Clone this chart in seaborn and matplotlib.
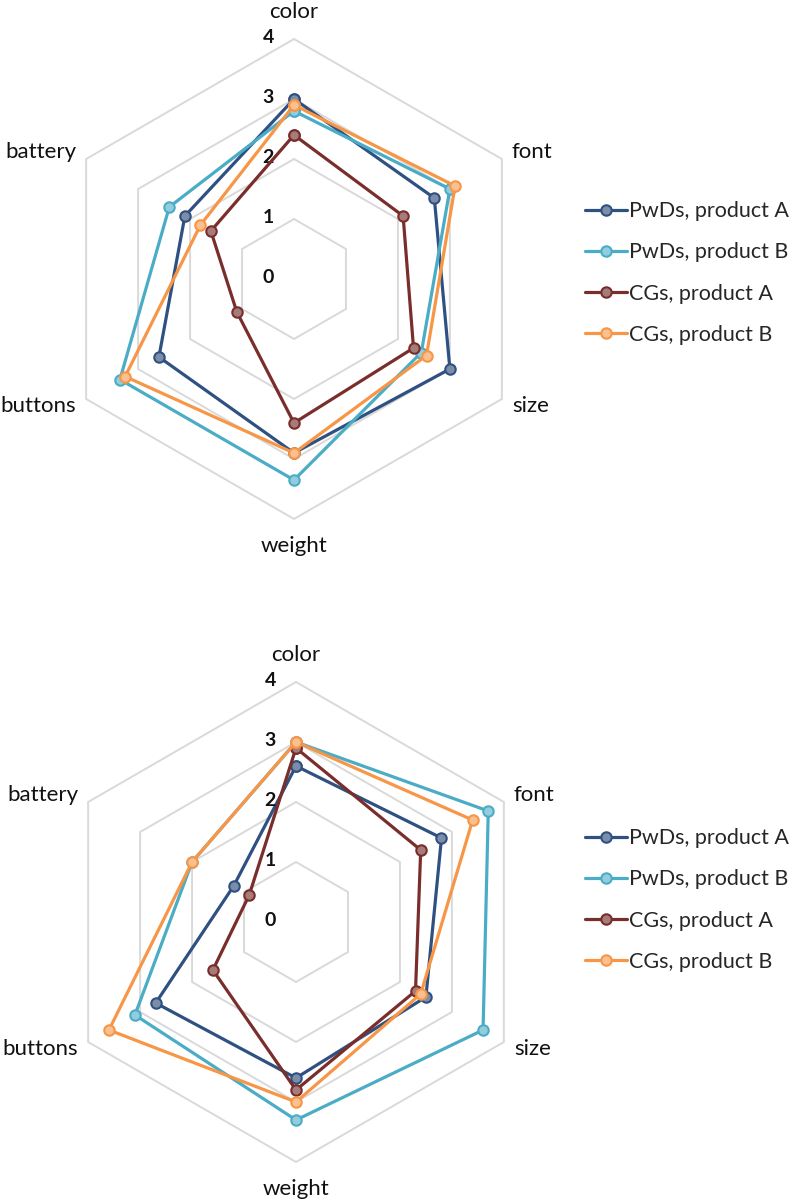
import numpy as np
import pandas as pd
import matplotlib
matplotlib.use("Agg")
import matplotlib.pyplot as plt
import seaborn as sns
from matplotlib.lines import Line2D

sns.set_theme(style="white")
plt.rcParams['font.family'] = ['Lato', 'DejaVu Sans']

# ---------------- data ----------------
categories = ["color", "font", "size", "weight", "buttons", "battery"]
series_names = ["PwDs, product A", "PwDs, product B", "CGs, product A", "CGs, product B"]
tick_values = [0, 1, 2, 3, 4]

# top chart
top_pwds_a = [3.0, 2.7, 3.0, 2.9, 2.6, 2.1]
top_pwds_b = [2.8, 3.0, 2.45, 3.35, 3.35, 2.4]
top_cgs_a = [2.4, 2.1, 2.3, 2.4, 1.1, 1.6]
top_cgs_b = [2.9, 3.1, 2.55, 2.9, 3.25, 1.8]

# bottom chart
bot_pwds_a = [2.6, 2.8, 2.5, 2.6, 2.7, 1.2]
bot_pwds_b = [3.0, 3.7, 3.6, 3.3, 3.1, 2.0]
bot_cgs_a = [2.9, 2.4, 2.3, 2.8, 1.6, 0.9]
bot_cgs_b = [3.0, 3.4, 2.4, 3.0, 3.6, 2.0]

# ---------------- styles ----------------
line_colors = ["#2F5182", "#4BACC6", "#7A2E2C", "#F79646"]
face_colors = ["#7D8DA8", "#93CDDD", "#A67C7B", "#FAC08F"]
grid_color = "#D9D9D9"

W, H = 791, 1201
DPI = 100
PX = 60.0  # pixels per unit

fig = plt.figure(figsize=(W / DPI, H / DPI), dpi=DPI)
fig.patch.set_facecolor("white")

n = len(categories)
angles = np.deg2rad(90 - np.arange(n) * 360.0 / n)


def to_xy(vals):
    vals = np.asarray(vals, dtype=float)
    v = np.append(vals, vals[0])
    a = np.append(angles, angles[0])
    return v * np.cos(a), v * np.sin(a)


def make_axes(px_left, px_top, px_w, px_h, cx, cy):
    ax = fig.add_axes([px_left / W, 1 - (px_top + px_h) / H, px_w / W, px_h / H])
    ax.set_xlim((px_left - cx) / PX, (px_left + px_w - cx) / PX)
    ax.set_ylim((cy - (px_top + px_h)) / PX, (cy - px_top) / PX)
    ax.axis("off")
    return ax


def draw_radar(ax, data_list, legend_cy):
    # hexagon gridlines
    for t in tick_values[1:]:
        gx, gy = to_xy([t] * n)
        ax.plot(gx, gy, color=grid_color, lw=1.4, zorder=1, solid_joinstyle="miter")
    # tick labels
    for t in tick_values:
        ax.text(-0.43, t + 0.03, str(t), ha="center", va="center",
                fontsize=14, fontweight="bold", color="#111111", zorder=5)
    # category labels
    for cat, a in zip(categories, angles):
        c, s = np.cos(a), np.sin(a)
        if abs(c) < 1e-6:
            ax.text(0, 4.45 * np.sign(s), cat, ha="center", va="center",
                    fontsize=16, color="#111111", clip_on=False)
        else:
            x = 3.63 * np.sign(c)
            y = 2.11 * np.sign(s)
            ax.text(x, y, cat, ha="left" if c > 0 else "right", va="center",
                    fontsize=16, color="#111111", clip_on=False)
    # series
    rows = []
    for name, vals in zip(series_names, data_list):
        xs, ys = to_xy(vals)
        for i, (x, y) in enumerate(zip(xs, ys)):
            rows.append({"series": name, "order": i, "x": x, "y": y})
    df = pd.DataFrame(rows)
    handles = []
    for k, name in enumerate(series_names):
        sub = df[df["series"] == name]
        sns.lineplot(data=sub, x="x", y="y", sort=False, estimator=None, ax=ax,
                     color=line_colors[k], lw=2.3, marker="o", markersize=7.5,
                     markerfacecolor=face_colors[k], markeredgecolor=line_colors[k],
                     markeredgewidth=1.5, zorder=3 + k, legend=False)
        handles.append(Line2D([], [], color=line_colors[k], lw=2.3, marker="o",
                              markersize=7.5, markerfacecolor=face_colors[k],
                              markeredgecolor=line_colors[k], markeredgewidth=1.5))
    ax.set_xlabel("")
    ax.set_ylabel("")
    ax.axis("off")
    ax.legend(handles, series_names, loc="center left",
              bbox_to_anchor=(585 / W, 1 - legend_cy / H), bbox_transform=fig.transFigure,
              frameon=False, fontsize=15.5, handlelength=1.95, handletextpad=0.1,
              labelspacing=0.98, borderpad=0, borderaxespad=0)


ax1 = make_axes(0, 0, 588, 570, 294, 279)
draw_radar(ax1, [top_pwds_a, top_pwds_b, top_cgs_a, top_cgs_b], 273)

ax2 = make_axes(0, 600, 592, 601, 296, 922)
draw_radar(ax2, [bot_pwds_a, bot_pwds_b, bot_cgs_a, bot_cgs_b], 900)

fig.savefig("out.png", dpi=DPI, facecolor="white")
